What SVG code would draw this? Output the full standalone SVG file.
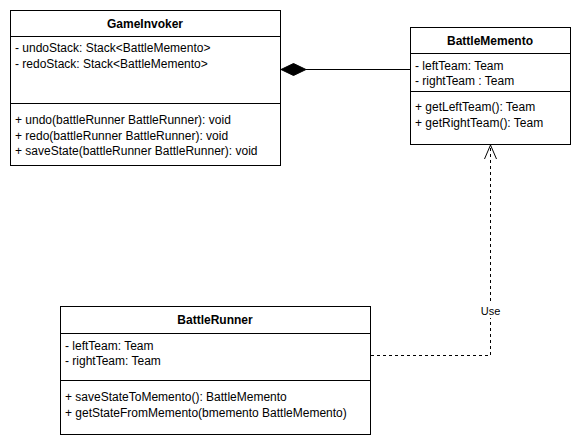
<svg xmlns="http://www.w3.org/2000/svg" width="581" height="448" viewBox="0 0 581 448">
<style>
text{font-family:"Liberation Sans",Arial,sans-serif;font-size:12px;fill:#000}
.t{font-weight:bold;text-anchor:middle}
.b{fill:#fff;stroke:#000;stroke-width:1}
.l{stroke:#000;stroke-width:1;fill:none}
.d{stroke:#000;stroke-width:1;fill:none;stroke-dasharray:3 3}
</style>
<rect width="581" height="448" fill="#fff"/>
<g id="GameInvoker">
<rect class="b" x="10.5" y="10.5" width="270" height="155"/>
<line class="l" x1="10.5" y1="36.5" x2="280.5" y2="36.5"/>
<line class="l" x1="10.5" y1="103.5" x2="280.5" y2="103.5"/>
<text class="t" x="145" y="28">GameInvoker</text>
<text x="15" y="52">- undoStack: Stack&lt;BattleMemento&gt;</text>
<text x="15" y="68">- redoStack: Stack&lt;BattleMemento&gt;</text>
<text x="15" y="124">+ undo(battleRunner BattleRunner): void</text>
<text x="15" y="140">+ redo(battleRunner BattleRunner): void</text>
<text x="15" y="155">+ saveState(battleRunner BattleRunner): void</text>
</g>
<g id="BattleMemento">
<rect class="b" x="410.5" y="27.5" width="160" height="117"/>
<line class="l" x1="410.5" y1="53.5" x2="570.5" y2="53.5"/>
<line class="l" x1="410.5" y1="91.5" x2="570.5" y2="91.5"/>
<text class="t" x="490" y="45">BattleMemento</text>
<text x="415" y="70">- leftTeam: Team</text>
<text x="415" y="85">- rightTeam : Team</text>
<text x="415" y="111">+ getLeftTeam(): Team</text>
<text x="415" y="127">+ getRightTeam(): Team</text>
</g>
<g id="BattleRunner">
<rect class="b" x="60.5" y="306.5" width="310" height="128"/>
<line class="l" x1="60.5" y1="333.5" x2="370.5" y2="333.5"/>
<line class="l" x1="60.5" y1="380.5" x2="370.5" y2="380.5"/>
<text class="t" x="215" y="324">BattleRunner</text>
<text x="65" y="350">- leftTeam: Team</text>
<text x="65" y="365">- rightTeam: Team</text>
<text x="65" y="401">+ saveStateToMemento(): BattleMemento</text>
<text x="65" y="417">+ getStateFromMemento(bmemento BattleMemento)</text>
</g>
<g id="connectors">
<line class="l" x1="306" y1="69.5" x2="410" y2="69.5"/>
<polygon points="281,69.5 293.5,63.5 306,69.5 293.5,75.5" fill="#000" stroke="#000"/>
<polyline class="d" points="371,355.5 490.5,355.5 490.5,146"/>
<polyline class="l" points="484.5,159 490.5,145 496.5,159"/>
<rect x="479" y="303" width="24" height="15" fill="#fff"/>
<text x="490.5" y="315" text-anchor="middle" style="font-size:11px">Use</text>
</g>
</svg>
